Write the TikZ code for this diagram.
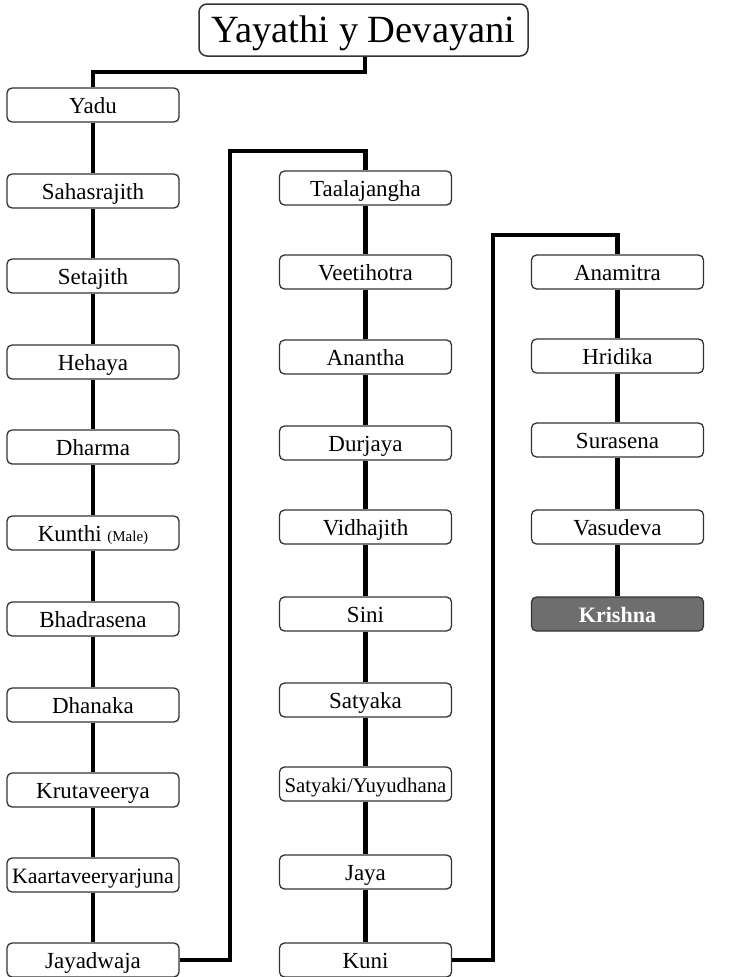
\documentclass[tikz,border=0pt]{standalone}
\usepackage{fontspec}
\setmainfont{Liberation Serif}
\begin{document}
\begin{tikzpicture}[x=1pt,y=-1pt,
  person/.style={draw=black!80, line width=1.3pt, rounded corners=5pt, fill=white,
    minimum width=172pt, minimum height=34pt, inner sep=0pt,
    text height=17.5pt, text depth=0pt, font=\fontsize{23}{25}\selectfont},
  hilite/.style={person, fill=black!57, text=white, font=\fontsize{22}{24}\selectfont\bfseries},
  titlebox/.style={draw=black!80, line width=1.5pt, rounded corners=8pt, fill=white,
    minimum width=329pt, minimum height=52pt, inner sep=0pt,
    text height=25pt, text depth=1pt, font=\fontsize{38.5}{40}\selectfont},
  link/.style={line width=4.5pt, line join=miter, draw=black}]
\useasboundingbox (0,0) rectangle (732,977);
% column 1
\node[titlebox] (title) at (363.5,30) {Yayathi y Devayani};
\node[person] (yadu) at (93,105) {Yadu};
\node[person] (saha) at (93,191) {Sahasrajith};
\node[person] (seta) at (93,276) {Setajith};
\node[person] (heha) at (93,362) {Hehaya};
\node[person] (dhar) at (93,447) {Dharma};
\node[person] (kunt) at (93,533) {Kunthi {\fontsize{15}{16}\selectfont(Male)}};
\node[person] (bhad) at (93,619) {Bhadrasena};
\node[person] (dhan) at (93,705) {Dhanaka};
\node[person] (krut) at (93,790) {Krutaveerya};
\node[person] (kaar) at (93,875) {\fontsize{21.9}{24}\selectfont Kaartaveeryarjuna};
\node[person] (jaya) at (93,960) {Jayadwaja};
% column 2
\node[person] (taal) at (365.5,188) {Taalajangha};
\node[person] (veet) at (365.5,272) {Veetihotra};
\node[person] (anan) at (365.5,357) {Anantha};
\node[person] (durj) at (365.5,443) {Durjaya};
\node[person] (vidh) at (365.5,527) {Vidhajith};
\node[person] (sini) at (365.5,614) {Sini};
\node[person] (saka) at (365.5,700) {Satyaka};
\node[person] (saki) at (365.5,784) {\fontsize{20.8}{24}\selectfont Satyaki/Yuyudhana};
\node[person] (jay2) at (365.5,872) {Jaya};
\node[person] (kuni) at (365.5,960) {Kuni};
% column 3
\node[person] (anam) at (617.5,272) {Anamitra};
\node[person] (hrid) at (617.5,356) {Hridika};
\node[person] (sura) at (617.5,440) {Surasena};
\node[person] (vasu) at (617.5,527) {Vasudeva};
\node[hilite] (kris) at (617.5,614) {Krishna};
% connector corners
\coordinate (t1) at (365,72);
\coordinate (c1) at (230,151);
\coordinate (c2) at (493,235);
% connectors
\draw[link] (title.south -| t1) -- (t1) -| (yadu.north);
\foreach \a/\b in {yadu/saha,saha/seta,seta/heha,heha/dhar,dhar/kunt,kunt/bhad,bhad/dhan,dhan/krut,krut/kaar,kaar/jaya,
  taal/veet,veet/anan,anan/durj,durj/vidh,vidh/sini,sini/saka,saka/saki,saki/jay2,jay2/kuni,
  anam/hrid,hrid/sura,sura/vasu,vasu/kris}
  \draw[link] (\a.south) -- (\b.north);
\draw[link] (jaya.east) -| (c1) -| (taal.north);
\draw[link] (kuni.east) -| (c2) -| (anam.north);
\end{tikzpicture}
\end{document}
